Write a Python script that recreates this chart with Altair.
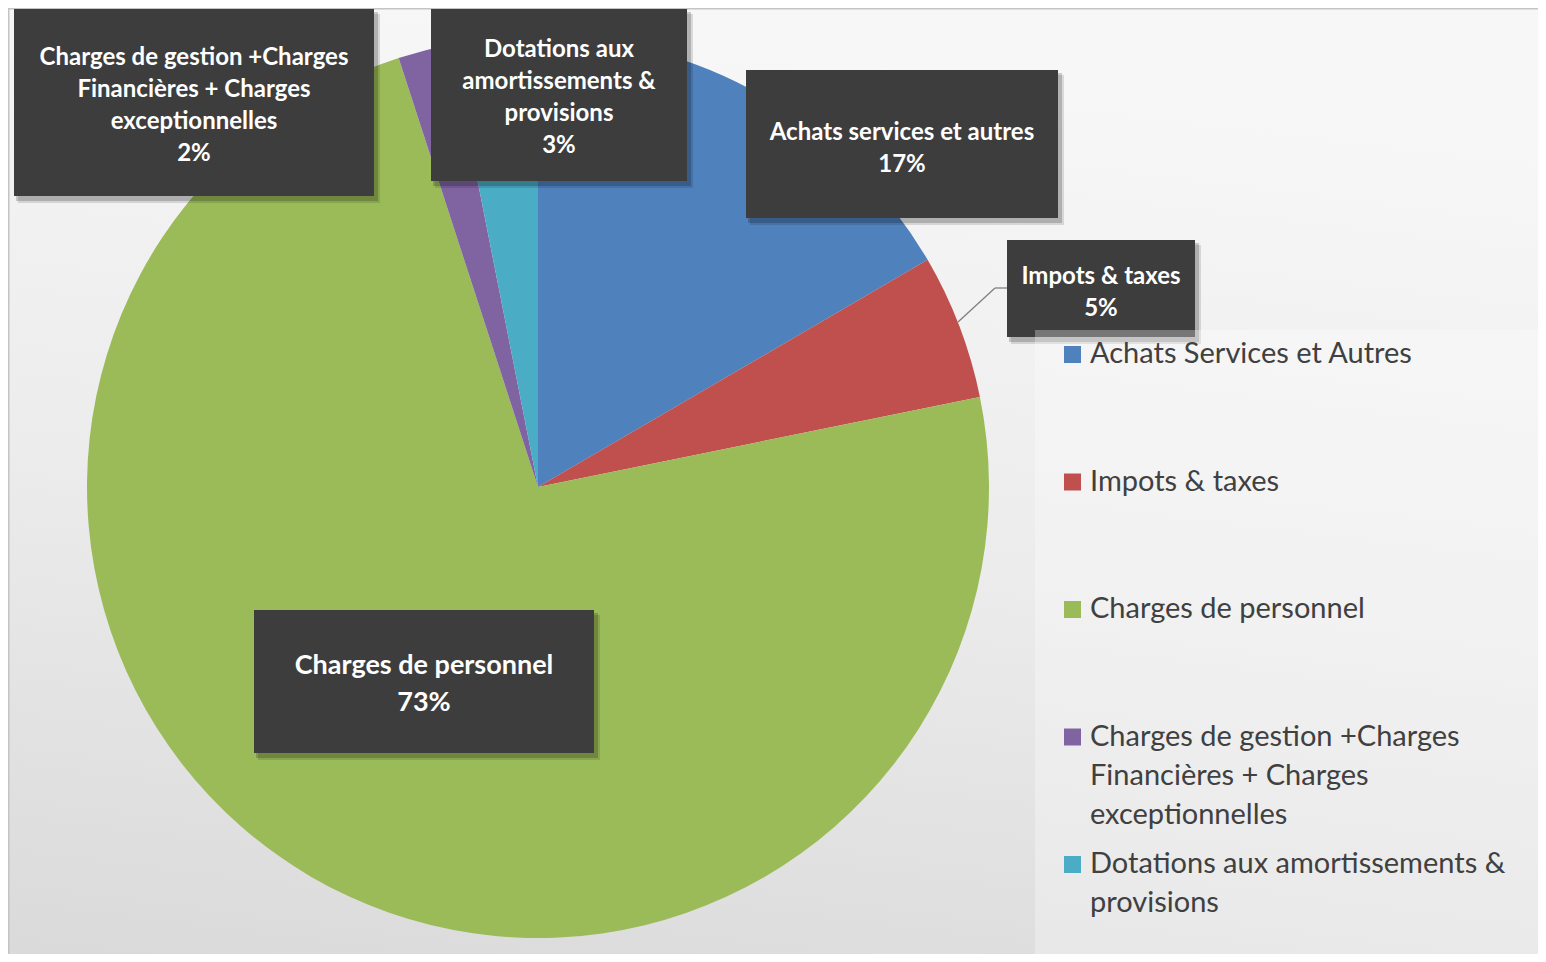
import altair as alt
import pandas as pd

# ---- data ----
categories = [
    "Achats Services et Autres",
    "Impots & taxes",
    "Charges de personnel",
    "Charges de gestion +Charges Financières + Charges exceptionnelles",
    "Dotations aux amortissements & provisions",
]
values = [16.6, 5.2, 73.2, 1.9, 3.1]
label_names = [
    "Achats services et autres",
    "Impots & taxes",
    "Charges de personnel",
    "Charges de gestion +Charges\nFinancières + Charges\nexceptionnelles",
    "Dotations aux\namortissements &\nprovisions",
]
legend_lines = [
    "Achats Services et Autres",
    "Impots & taxes",
    "Charges de personnel",
    "Charges de gestion +Charges\nFinancières + Charges\nexceptionnelles",
    "Dotations aux amortissements &\nprovisions",
]
colors = ["#4f81bd", "#c0504d", "#9bbb59", "#8064a2", "#4bacc6"]

# ---- layout (styling, not data) ----
W, H = 1530, 946
CX, CY, R = 530, 479, 451
# label boxes: x1, y1, x2, y2, text x, first baseline, font size
label_layout = [
    (738, 62, 1050, 210, 894, 132, 24),
    (999, 232, 1187, 329, 1093, 276, 24),
    (246, 602, 586, 745, 416, 666, 27),
    (6, 1, 366, 188, 186, 56.5, 24),
    (423, 1, 679, 173, 551, 48.5, 24),
]

df = pd.DataFrame({"cat": categories, "value": values, "idx": list(range(len(values)))})

lab = pd.DataFrame({
    "name": label_names,
    "value": values,
    "x1": [l[0] for l in label_layout],
    "y1": [l[1] for l in label_layout],
    "x2": [l[2] for l in label_layout],
    "y2": [l[3] for l in label_layout],
    "tx": [l[4] for l in label_layout],
    "ty": [l[5] for l in label_layout],
    "fs": [l[6] for l in label_layout],
})

leg = pd.DataFrame({"cat": categories, "txt": legend_lines, "idx": list(range(len(categories)))})

color_scale = alt.Scale(domain=categories, range=colors)

bg = alt.Chart(pd.DataFrame({"a": [0]})).mark_rect(
    fill=alt.LinearGradient(
        gradient="linear",
        stops=[alt.GradientStop(color="#f7f7f7", offset=0),
               alt.GradientStop(color="#ececec", offset=0.5),
               alt.GradientStop(color="#dadada", offset=1)],
        x1=0.3, y1=0, x2=0.1, y2=1),
    stroke="#c4c4c4", strokeWidth=2,
).encode(x=alt.value(0.5), x2=alt.value(W + 5), y=alt.value(0.5), y2=alt.value(H + 10))

# soft shadow under the pie
shadow_layers = []
for off, op in [(14, 0.03), (10, 0.04), (6, 0.05), (3, 0.06)]:
    shadow_layers.append(
        alt.Chart(pd.DataFrame({"a": [1]})).mark_arc(
            radius=R + off * 0.6, color="#000000", opacity=op
        ).encode(theta=alt.Theta("a:Q"), x=alt.value(CX + off * 0.3), y=alt.value(CY + off * 0.5))
    )

pie = alt.Chart(df).mark_arc(radius=R).encode(
    theta=alt.Theta("value:Q", stack=True),
    order=alt.Order("idx:Q"),
    color=alt.Color("cat:N", scale=color_scale, legend=None),
    x=alt.value(CX), y=alt.value(CY),
)

# leader line for Impots label
leader1 = alt.Chart(pd.DataFrame({"a": [0]})).mark_rule(color="#7f7f7f", strokeWidth=1.3).encode(
    x=alt.value(950), y=alt.value(314), x2=alt.value(987), y2=alt.value(280))
leader2 = alt.Chart(pd.DataFrame({"a": [0]})).mark_rule(color="#7f7f7f", strokeWidth=1.3).encode(
    x=alt.value(987), y=alt.value(280), x2=alt.value(999), y2=alt.value(280))

base_lab = alt.Chart(lab).transform_joinaggregate(total="sum(value)").transform_calculate(
    txt="datum.name + '\\n' + format(datum.value / datum.total, '.0%')",
    sx1="datum.x1 + 2", sx2="datum.x2 + 4", sy1="datum.y1 + 3", sy2="datum.y2 + 5",
    tx1="datum.x1 + 4", tx2="datum.x2 + 6", ty1="datum.y1 + 5", ty2="datum.y2 + 7",
)

box_shadow2 = base_lab.mark_rect(color="#000000", opacity=0.12).encode(
    x=alt.X("tx1:Q", scale=None), x2="tx2:Q",
    y=alt.Y("ty1:Q", scale=None), y2="ty2:Q")
box_shadow = base_lab.mark_rect(color="#000000", opacity=0.18).encode(
    x=alt.X("sx1:Q", scale=None), x2="sx2:Q",
    y=alt.Y("sy1:Q", scale=None), y2="sy2:Q")
box = base_lab.mark_rect(color="#3d3d3d").encode(
    x=alt.X("x1:Q", scale=None), x2="x2:Q",
    y=alt.Y("y1:Q", scale=None), y2="y2:Q")

lab_text_small = base_lab.transform_filter("datum.fs < 25").mark_text(
    font="Lato", fontWeight="bold", fontSize=24, color="#ffffff", lineBreak="\n",
    lineHeight=32, align="center", baseline="alphabetic",
).encode(x=alt.X("tx:Q", scale=None), y=alt.Y("ty:Q", scale=None), text="txt:N")
lab_text_big = base_lab.transform_filter("datum.fs >= 25").mark_text(
    font="Lato", fontWeight="bold", fontSize=27, color="#ffffff", lineBreak="\n",
    lineHeight=37, align="center", baseline="alphabetic",
).encode(x=alt.X("tx:Q", scale=None), y=alt.Y("ty:Q", scale=None), text="txt:N")

# legend box (translucent, over the label)
leg_box = alt.Chart(pd.DataFrame({"a": [0]})).mark_rect(
    fill="#ffffff", opacity=0.3).encode(
    x=alt.value(1027), x2=alt.value(W + 5), y=alt.value(322), y2=alt.value(H + 10))

leg_base = alt.Chart(leg).transform_calculate(
    ly="346.5 + datum.idx * 127.5",
    lt="332 + datum.idx * 127.5",
)
leg_sq = leg_base.mark_rect(width=17, height=17).encode(
    x=alt.value(1064.5), y=alt.Y("ly:Q", scale=None),
    color=alt.Color("cat:N", scale=color_scale, legend=None))
leg_txt = leg_base.mark_text(
    font="Lato", fontSize=29, color="#404040", align="left", baseline="top",
    lineBreak="\n", lineHeight=39,
).encode(x=alt.value(1082), y=alt.Y("lt:Q", scale=None), text="txt:N")

chart = alt.layer(
    bg, *shadow_layers, pie, leader1, leader2, box_shadow2, box_shadow, box,
    lab_text_small, lab_text_big, leg_box, leg_sq, leg_txt,
).properties(
    width=W, height=H, autosize=alt.AutoSizeParams(type="none"), padding=0,
).configure_view(stroke=None)

chart.save("out.html", embed_options={"renderer": "svg", "actions": False})
